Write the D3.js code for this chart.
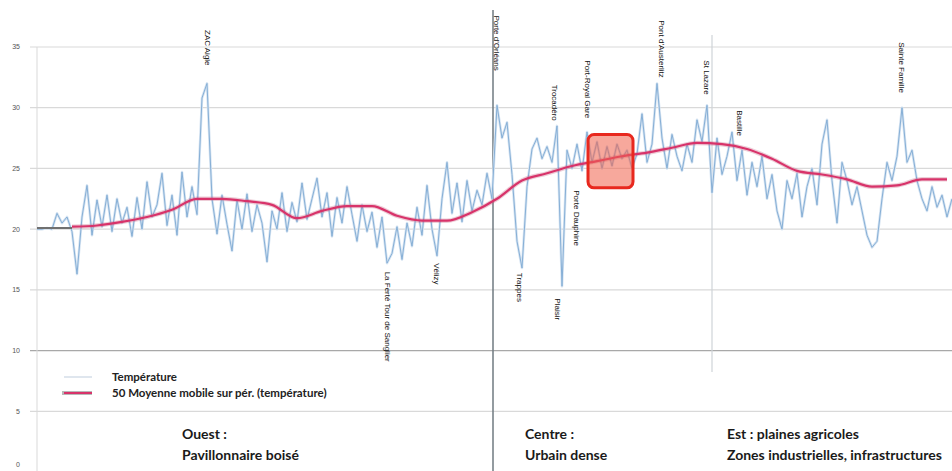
<!DOCTYPE html>
<html>
<head>
<meta charset="utf-8">
<script src="https://cdn.jsdelivr.net/npm/d3@7"></script>
<style>
  body { margin: 0; background: #fff; }
  svg { display: block; }
</style>
</head>
<body>
<svg id="chart" width="952" height="471"></svg>
<script>
// temperature readings, one every 5 px of the original chart
const temperature = [
  20.0, 20.0, 20.1, 20.0, 21.3, 20.5, 21.0, 19.8, 16.3, 21.0,
  23.6, 19.5, 22.4, 20.2, 22.8, 19.8, 22.5, 20.5, 21.8, 19.4,
  22.6, 20.0, 23.9, 21.0, 22.0, 24.6, 20.3, 22.8, 19.5, 24.7,
  21.0, 23.5, 21.2, 30.8, 32.0, 22.5, 19.6, 22.8, 20.4, 18.2,
  22.4, 20.0, 22.9, 19.8, 22.0, 20.5, 17.3, 21.5, 20.0, 23.0,
  19.8, 22.2, 20.6, 23.8, 20.8, 22.5, 24.2, 21.0, 23.0, 19.4,
  22.6, 20.5, 23.5, 21.2, 19.0, 22.0, 19.8, 21.4, 18.5, 21.0,
  17.2, 18.0, 20.2, 17.5, 20.5, 18.6, 21.8, 19.5, 23.6, 20.0,
  17.8, 22.5, 25.5, 21.3, 23.8, 20.6, 24.0, 21.5, 23.2, 22.0,
  24.6, 22.5, 30.2, 27.5, 28.8, 24.5, 19.0, 16.8, 23.5, 26.6,
  27.5, 25.8, 26.8, 25.5, 28.5, 15.3, 26.5, 25.0, 27.0, 24.8,
  28.0, 25.5, 27.2, 25.0, 26.8, 25.2, 27.0, 25.8, 26.5, 25.0,
  26.2, 29.5, 25.5, 27.0, 32.0, 27.5, 25.0, 27.8, 26.0, 24.8,
  27.0, 25.5, 29.0, 27.2, 30.2, 23.0, 27.5, 24.5, 26.0, 28.0,
  24.0, 26.5, 22.8, 25.5, 23.5, 26.0, 22.5, 24.5, 21.5, 20.0,
  24.0, 22.5, 24.6, 21.0, 23.5, 25.0, 22.0, 27.0, 29.0, 24.0,
  20.5, 25.5, 24.0, 22.0, 23.5, 21.5, 19.5, 18.5, 19.0, 22.5,
  25.5, 24.0, 26.0, 30.0, 25.5, 26.5, 24.0, 22.5, 21.5, 23.5,
  21.8, 22.8, 21.0, 22.5
];

// 50-period moving average, read every 5 readings from index 7
const maStart = 7;
const maStep = 5;
const movingAvg = [
  20.2, 20.3, 20.6, 21.0, 21.6, 22.5, 22.5, 22.3, 22.0, 20.9,
  21.5, 21.9, 21.9, 21.1, 20.7, 20.7, 21.4, 22.5, 24.0, 24.6,
  25.2, 25.6, 26.0, 26.3, 26.7, 27.1, 27.0, 26.6, 25.8, 24.8,
  24.5, 24.1, 23.5, 23.6, 24.1, 24.1
];
const leadLine = [20.1, 20.1]; // grey stub before the average starts

const yTicks = [0, 5, 10, 15, 20, 25, 30, 35];

// zone separators (reading index)
const separators = [91.2, 135];

// point labels: name, reading index, value where the text starts
const labelNames = ["ZAC Aigle", "Porte d'Orléans", "Trocadéro", "Port-Royal Gare", "Pont d'Austerlitz",
  "St Lazare", "Bastille", "Sainte Famille", "La Ferté Tour de Sanglier", "Vélizy",
  "Trappes", "Plaisir", "Porte Dauphine"];
const labelIndex = [34.2, 92, 103.6, 110.2, 125, 134, 140.6, 173, 70.2, 80, 96.6, 104.2, 108];
const labelValue = [36.4, 37.6, 31.9, 33.9, 37.2, 33.9, 29.8, 35.4, 16.5, 17.2, 16.4, 14.3, 23.2];

// highlighted area
const boxIndex = [110.2, 119.2];
const boxValue = [23.4, 27.8];

const zones = [
  { i: 29, l1: "Ouest :", l2: "Pavillonnaire boisé" },
  { i: 97.6, l1: "Centre :", l2: "Urbain dense" },
  { i: 138, l1: "Est : plaines agricoles", l2: "Zones industrielles, infrastructures" }
];

const svg = d3.select("#chart");

const x = d3.scaleLinear().domain([0, temperature.length - 1]).range([37, 952]);
const y = d3.scaleLinear().domain([0, 35]).range([472, 47]);

// grid
svg.append("g").selectAll("line")
  .data(yTicks)
  .enter()
  .append("line")
  .attr("x1", 30)
  .attr("x2", 952)
  .attr("y1", d => y(d))
  .attr("y2", d => y(d))
  .attr("stroke", d => d === 10 ? "#a8a8a8" : "#d9d9d9")
  .attr("stroke-width", 1.2);

svg.append("line")
  .attr("x1", 37).attr("x2", 37)
  .attr("y1", y(35)).attr("y2", 471)
  .attr("stroke", "#d9d9d9");

// y tick labels
svg.append("g").selectAll("text")
  .data(yTicks)
  .enter()
  .append("text")
  .attr("x", 20)
  .attr("y", d => Math.min(y(d), 465))
  .attr("dy", "0.35em")
  .attr("text-anchor", "end")
  .attr("font-family", "Liberation Sans, Arial, sans-serif")
  .attr("font-size", "7px")
  .attr("fill", "#555")
  .text(d => d);

// separators
svg.append("line")
  .attr("x1", x(separators[0])).attr("x2", x(separators[0]))
  .attr("y1", 10).attr("y2", 471)
  .attr("stroke", "#6f7a80")
  .attr("stroke-width", 1.5);

svg.append("line")
  .attr("x1", x(separators[1])).attr("x2", x(separators[1]))
  .attr("y1", 35).attr("y2", 372)
  .attr("stroke", "#cfd4d8")
  .attr("stroke-width", 1.2);

// temperature line
const tempLine = d3.line()
  .x((d, i) => x(i))
  .y(d => y(d));

svg.append("path")
  .datum(temperature)
  .attr("d", tempLine)
  .attr("fill", "none")
  .attr("stroke", "#d6e4f2")
  .attr("stroke-width", 2.6)
  .attr("stroke-linejoin", "round");

svg.append("path")
  .datum(temperature)
  .attr("d", tempLine)
  .attr("fill", "none")
  .attr("stroke", "#86afd6")
  .attr("stroke-width", 1)
  .attr("stroke-linejoin", "round");

// grey stub
svg.append("path")
  .datum(leadLine)
  .attr("d", d3.line().x((d, i) => x(i * maStart)).y(d => y(d)))
  .attr("stroke", "#707070")
  .attr("stroke-width", 2);

// moving average
const maLine = d3.line()
  .x((d, i) => x(maStart + i * maStep))
  .y(d => y(d))
  .curve(d3.curveMonotoneX);

svg.append("path")
  .datum(movingAvg)
  .attr("d", maLine)
  .attr("fill", "none")
  .attr("stroke", "#c25b7c")
  .attr("stroke-opacity", 0.3)
  .attr("stroke-width", 4.5);

svg.append("path")
  .datum(movingAvg)
  .attr("d", maLine)
  .attr("fill", "none")
  .attr("stroke", "#d8336a")
  .attr("stroke-width", 2.2);

// highlight box
svg.append("rect")
  .attr("x", x(boxIndex[0]))
  .attr("y", y(boxValue[1]))
  .attr("width", x(boxIndex[1]) - x(boxIndex[0]))
  .attr("height", y(boxValue[0]) - y(boxValue[1]))
  .attr("rx", 6)
  .attr("fill", "#f0604a")
  .attr("fill-opacity", 0.55)
  .attr("stroke", "#e8281e")
  .attr("stroke-width", 3);

// point labels
svg.append("g").selectAll("text")
  .data(labelNames)
  .enter()
  .append("text")
  .attr("transform", (d, i) => `translate(${x(labelIndex[i])},${y(labelValue[i])}) rotate(90)`)
  .attr("dy", "0.35em")
  .attr("font-family", "Liberation Sans, Arial, sans-serif")
  .attr("font-size", "8px")
  .attr("fill", "#111")
  .text(d => d);

// legend
const legend = svg.append("g").attr("font-family", "Lato, sans-serif").attr("font-weight", "bold").attr("font-size", "11.5px").attr("fill", "#222");
legend.append("line").attr("x1", 64).attr("x2", 92).attr("y1", 377).attr("y2", 377)
  .attr("stroke", "#dfe6ee").attr("stroke-width", 2);
legend.append("text").attr("x", 112).attr("y", 381).text("Température");
legend.append("line").attr("x1", 62).attr("x2", 92).attr("y1", 393).attr("y2", 393)
  .attr("stroke", "#8a8a8a").attr("stroke-width", 4).attr("stroke-opacity", 0.6);
legend.append("line").attr("x1", 64).attr("x2", 92).attr("y1", 393).attr("y2", 393)
  .attr("stroke", "#d8336a").attr("stroke-width", 2);
legend.append("text").attr("x", 112).attr("y", 397).text("50 Moyenne mobile sur pér. (température)");

// zone captions
const zoneG = svg.append("g").attr("font-family", "Lato, sans-serif").attr("font-weight", "bold").attr("font-size", "14px").attr("fill", "#1a1a1a");
zoneG.selectAll(".l1").data(zones).enter().append("text")
  .attr("x", d => x(d.i)).attr("y", 439).text(d => d.l1);
zoneG.selectAll(".l2").data(zones).enter().append("text")
  .attr("x", d => x(d.i)).attr("y", 460).text(d => d.l2);
</script>
</body>
</html>
